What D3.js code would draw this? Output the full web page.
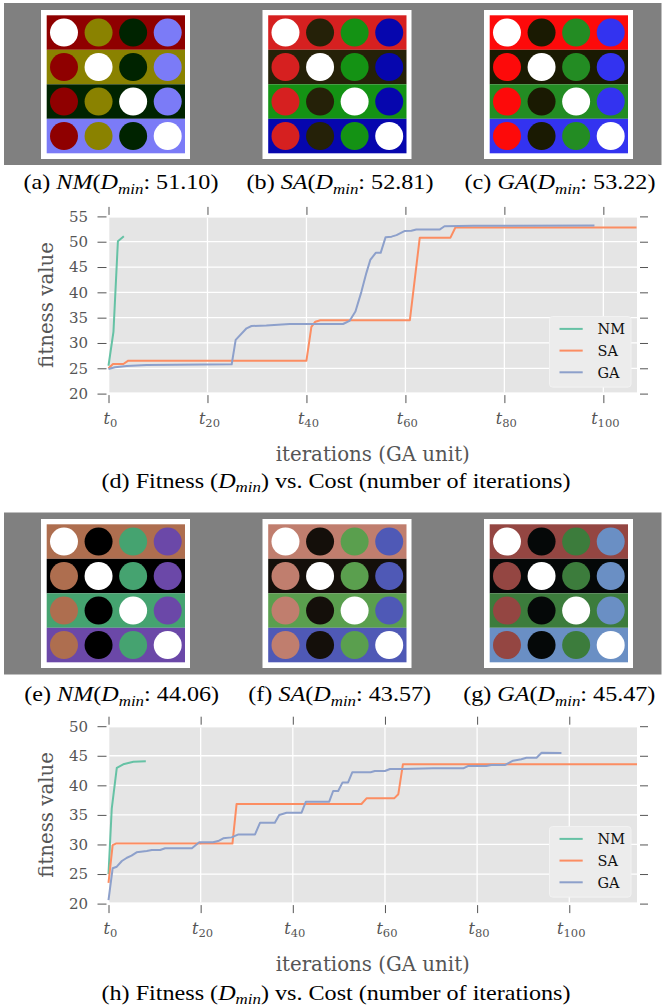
<!DOCTYPE html>
<html><head><meta charset="utf-8">
<script src="https://cdn.jsdelivr.net/npm/d3@7"></script>
<style>html,body{margin:0;padding:0;background:#fff;overflow:hidden}</style>
</head><body>
<script>
// ---------- data ----------
const methods = ["NM", "SA", "GA"];
const lineColors = ["#66c2a5", "#fc8d62", "#8da0cb"];

const paletteA = ["#8f0000", "#8a8200", "#002300", "#7b7bf7"];
const paletteB = ["#d62020", "#252108", "#149214", "#0606ae"];
const paletteC = ["#fd0a0a", "#1a1a02", "#238c23", "#3333f0"];
const paletteE = ["#ae6e4f", "#000000", "#45a370", "#6b48a8"];
const paletteF = ["#c07e6e", "#140f0a", "#5a9f4e", "#4f59b6"];
const paletteG = ["#944642", "#050808", "#3c7c3c", "#6a8fc4"];

const topTags = ["(a)", "(b)", "(c)"];
const topValues = ["51.10", "52.81", "53.22"];
const bottomTags = ["(e)", "(f)", "(g)"];
const bottomValues = ["44.06", "43.57", "45.47"];
const chartTags = ["(d)", "(h)"];

const xTickValues = [0, 20, 40, 60, 80, 100];
const yTicksTop = [20, 25, 30, 35, 40, 45, 50, 55];
const yTicksBottom = [20, 25, 30, 35, 40, 45, 50];

// chart (d) series: [iteration, fitness]
const nmTop = [[0,25.5],[1.0,32.2],[1.9,50.1],[3.1,51.1]];
const saTop = [[0,25.0],[0.9,25.85],[3.0,25.85],[4.0,26.5],[40.0,26.5],[41.0,33.2],[41.8,34.2],[42.8,34.5],[60.9,34.5],[62.9,50.8],[69.1,50.8],[70.1,52.81],[106.7,52.81]];
const gaTop = [[0,24.85],[1.3,25.2],[3.7,25.45],[7.7,25.65],[24.9,25.8],[25.7,30.6],[27.9,32.9],[28.9,33.35],[31.9,33.45],[36.6,33.75],[47.4,33.75],[48.7,34.35],[49.9,36.2],[51.1,40.1],[52.1,43.8],[52.9,46.4],[54.0,47.8],[55.0,47.8],[56.0,50.9],[57.2,51.0],[58.2,51.3],[59.8,52.1],[61.2,52.15],[62.2,52.4],[66.9,52.4],[67.9,53.05],[73.6,53.15],[98.2,53.22]];

// chart (h) series
const nmBottom = [[0,25.0],[0.7,36.0],[1.8,42.97],[3.2,43.55],[5.4,43.99],[8.1,44.06]];
const saBottom = [[0,23.5],[0.9,29.9],[1.6,30.15],[26.9,30.15],[27.8,36.85],[54.9,36.85],[56.0,37.8],[62.0,37.8],[62.9,38.5],[63.9,43.57],[114.7,43.57]];
const gaBottom = [[0,20.6],[0.9,25.97],[1.8,26.24],[2.9,27.2],[4.0,27.76],[5.0,28.1],[6.1,28.67],[8.3,28.89],[9.4,29.06],[11.2,29.06],[12.3,29.35],[18.1,29.35],[19.7,30.36],[22.7,30.36],[23.8,30.58],[24.9,31.04],[26.7,31.2],[28.2,31.7],[31.8,31.7],[32.9,33.68],[36.1,33.68],[37.05,34.98],[38.65,35.37],[41.9,35.37],[42.84,37.23],[47.9,37.23],[48.76,39.04],[49.85,39.04],[50.8,40.5],[52.0,40.5],[52.9,42.2],[56.9,42.2],[57.8,42.42],[60.0,42.42],[61.1,42.76],[63.9,42.76],[70.5,42.87],[77.0,42.87],[78.0,43.26],[82.0,43.26],[83.1,43.43],[86.0,43.43],[87.8,44.16],[89.6,44.4],[90.7,44.67],[92.9,44.67],[94.0,45.5],[98.3,45.47]];

// ---------- drawing ----------
const W = 662, H = 1008;
const svg = d3.select("body").append("svg").attr("width", W).attr("height", H);

const capFont = "'Liberation Serif', 'Times New Roman', serif";
const cmFont = "'DejaVu Serif', serif";
const stretch = 1.15;

function addParts(text, parts, size) {
  parts.forEach(p => {
    const t = text.append("tspan").text(p.s);
    if (p.it) t.attr("font-style", "italic");
    if (p.sub) t.attr("font-size", size * 0.7).attr("dy", size * 0.22);
    if (p.back) t.attr("dy", -size * 0.22);
  });
}

function stretchedText(cx, cy, size) {
  return svg.append("g").attr("transform", `translate(${cx},${cy}) scale(${stretch},1)`)
    .append("text").attr("text-anchor", "middle").attr("font-family", capFont)
    .attr("font-size", size).attr("fill", "#000");
}

function swatch(x, y, palette) {
  const g = svg.append("g").attr("transform", `translate(${x},${y})`);
  g.append("rect").attr("width", 149).attr("height", 149).attr("fill", "#fff");
  const idx = d3.range(palette.length);
  const col = d3.scaleBand().domain(idx).range([5.7, 144]);
  const row = d3.scaleBand().domain(idx).range([5.3, 143.3]);
  idx.forEach(i => {
    g.append("rect").attr("x", 5.7).attr("y", row(i))
      .attr("width", 138.3).attr("height", row.bandwidth()).attr("fill", palette[i]);
    g.selectAll(null).data(idx).join("circle")
      .attr("cx", j => col(j) + col.bandwidth() / 2)
      .attr("cy", row(i) + row.bandwidth() / 2)
      .attr("r", 14)
      .attr("fill", j => j === i ? "#fff" : palette[j]);
  });
}

function panelRow(bandY, frameY, palettes, tags, values, capCenters, capY) {
  svg.append("rect").attr("x", 4).attr("y", bandY).attr("width", 657.5).attr("height", 162).attr("fill", "#808080");
  const frameX = [41, 262.5, 484];
  palettes.forEach((p, k) => swatch(frameX[k], frameY, p));
  tags.forEach((tag, k) => {
    const t = stretchedText(capCenters[k], capY, 21);
    addParts(t, [
      {s: tag + " "}, {s: methods[k], it: true}, {s: "("}, {s: "D", it: true},
      {s: "min", it: true, sub: true}, {s: ": " + values[k] + ")", back: true}
    ], 21);
  });
}

panelRow(3, 10, [paletteA, paletteB, paletteC], topTags, topValues, [121, 340, 560], 189);
panelRow(512.5, 519, [paletteE, paletteF, paletteG], bottomTags, bottomValues, [121.7, 339.7, 559.3], 701);

function chart(cfg) {
  const x = d3.scaleLinear().domain([0, cfg.xMax]).range([108.5, 637]);
  const y = d3.scaleLinear().domain([cfg.yMin, cfg.yMax]).range([cfg.bottom, cfg.top]);
  const g = svg.append("g");
  const [x0, x1] = x.range();
  const yb = y(cfg.yMin), yt = y(cfg.yMax);
  g.append("rect").attr("x", x0 + 0.8).attr("y", yt + 1.2).attr("width", x1 - x0 - 0.8)
    .attr("height", yb - yt - 2.4).attr("fill", "#e5e5e5");
  // grid
  g.selectAll(null).data(cfg.yTicks.slice(1, -1)).join("line")
    .attr("x1", x0 + 0.8).attr("x2", x1).attr("y1", d => y(d)).attr("y2", d => y(d))
    .attr("stroke", "#fff").attr("stroke-width", 1.3);
  g.selectAll(null).data(xTickValues.slice(1)).join("line")
    .attr("y1", yt + 1.2).attr("y2", yb - 1.2).attr("x1", d => x(d)).attr("x2", d => x(d))
    .attr("stroke", "#fff").attr("stroke-width", 1.3);
  // tick marks (outside, offset)
  const tc = "#555";
  g.append("g").attr("transform", `translate(${x0 - 2},0)`)
    .call(d3.axisLeft(y).tickValues(cfg.yTicks).tickSize(9).tickFormat(""))
    .call(a => a.select(".domain").remove()).selectAll("line").attr("stroke", tc);
  g.append("g").attr("transform", `translate(${x1 + 3},0)`)
    .call(d3.axisRight(y).tickValues(cfg.yTicks).tickSize(8).tickFormat(""))
    .call(a => a.select(".domain").remove()).selectAll("line").attr("stroke", tc);
  g.append("g").attr("transform", `translate(0,${yt - 1.5})`)
    .call(d3.axisTop(x).tickValues(xTickValues).tickSize(8).tickFormat(""))
    .call(a => a.select(".domain").remove()).selectAll("line").attr("stroke", tc);
  g.append("g").attr("transform", `translate(0,${yb + 1.5})`)
    .call(d3.axisBottom(x).tickValues(xTickValues).tickSize(8).tickFormat(""))
    .call(a => a.select(".domain").remove()).selectAll("line").attr("stroke", tc);
  // y tick labels
  g.selectAll(null).data(cfg.yTicks).join("text")
    .attr("x", 88).attr("y", d => y(d)).attr("dy", "0.36em")
    .attr("text-anchor", "end").attr("font-family", cmFont).attr("font-size", 15)
    .attr("fill", "#555").text(d => d);
  // x tick labels t_k
  xTickValues.forEach(v => {
    const t = g.append("text").attr("x", x(v) + 2).attr("y", yb + 30)
      .attr("text-anchor", "middle").attr("font-family", cmFont).attr("font-size", 16).attr("fill", "#555");
    t.append("tspan").attr("font-style", "italic").text("t");
    t.append("tspan").attr("font-size", 11.5).attr("dy", 3.5).text(v);
  });
  // axis labels
  g.append("text").attr("x", (x0 + x1) / 2).attr("y", yb + 67)
    .attr("text-anchor", "middle").attr("font-family", cmFont).attr("font-size", 19.8)
    .attr("fill", "#555").text("iterations (GA unit)");
  g.append("text").attr("transform", `translate(52.5,${(yt + yb) / 2}) rotate(-90)`)
    .attr("text-anchor", "middle").attr("font-family", cmFont).attr("font-size", 19.8)
    .attr("fill", "#555").text("fitness value");
  // lines
  const line = d3.line().x(d => x(d[0])).y(d => y(d[1]));
  cfg.series.forEach((s, k) => {
    g.append("path").attr("d", line(s)).attr("fill", "none")
      .attr("stroke", lineColors[k]).attr("stroke-width", 2).attr("stroke-linejoin", "round");
  });
  // legend
  const lg = g.append("g").attr("transform", `translate(549.5,${yb - 77})`);
  lg.append("rect").attr("width", 81.5).attr("height", 70.5).attr("rx", 3)
    .attr("fill", "#ececec").attr("stroke", "#f3f3f3").attr("stroke-width", 1);
  methods.forEach((m, k) => {
    const ly = 12.3 + k * 21.7;
    lg.append("line").attr("x1", 10).attr("x2", 33.2).attr("y1", ly).attr("y2", ly)
      .attr("stroke", lineColors[k]).attr("stroke-width", 2);
    lg.append("text").attr("x", 48).attr("y", ly).attr("dy", "0.36em")
      .attr("font-family", cmFont).attr("font-size", 14.5).attr("fill", "#111").text(m);
  });
  // caption
  const c = stretchedText(336, yb + cfg.capGap, 21);
  addParts(c, [
    {s: cfg.tag + " Fitness ("}, {s: "D", it: true}, {s: "min", it: true, sub: true},
    {s: ") vs. Cost (number of iterations)", back: true}
  ], 21);
}

chart({top: 216.4, bottom: 393.6, yMin: 20, yMax: 55, xMax: 106.8, yTicks: yTicksTop,
  series: [nmTop, saTop, gaTop], tag: chartTags[0], capGap: 94});
chart({top: 726.2, bottom: 903.6, yMin: 20, yMax: 50, xMax: 114.7, yTicks: yTicksBottom,
  series: [nmBottom, saBottom, gaBottom], tag: chartTags[1], capGap: 96});
</script>
</body></html>
